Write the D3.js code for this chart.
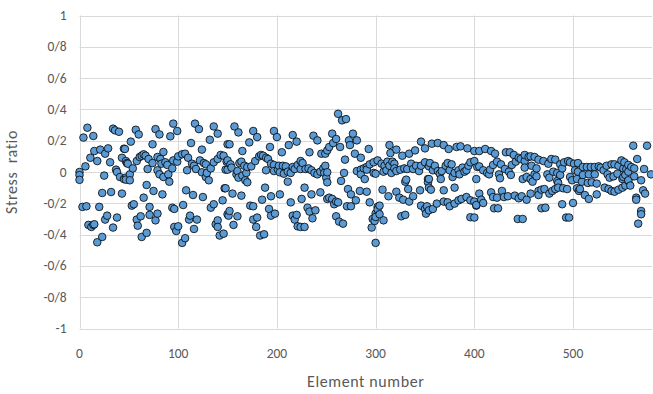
<!DOCTYPE html>
<html>
<head>
<meta charset="utf-8">
<script src="https://cdn.jsdelivr.net/npm/d3@7"></script>
<style>
  body { margin: 0; background: #fff; }
  svg text { font-family: Carlito, Calibri, Lato, sans-serif; }
</style>
</head>
<body>
<svg id="chart" width="653" height="394"></svg>
<script>
// element number / stress ratio in vertical strips
const strip1 = [[0,0],[0,-0.02],[0,-0.05],[6,0.036],[4,0.22],[8,0.283],[14,0.23],[34,0.277],[36,0.266],[40,0.257],[11,0.091],[15,0.134],[18,0.07],[21,0.143],[26,0.117],[29,0.151],[31,0.062],[25,-0.023],[37,0.015],[38,0],[41,-0.032],[45,-0.045],[47,-0.036],[43,0.091],[45,0.149],[48,0.057],[23,-0.134],[32,-0.128],[43,-0.138],[3,-0.223],[7,-0.219],[20,-0.223],[28,-0.279],[38,-0.291],[26,-0.304],[9,-0.338],[14,-0.338],[15,-0.334],[12,-0.351],[34,-0.355],[23,-0.415],[18,-0.449]];
const strip2 = [[57,0.27],[60,0.24],[77,0.274],[81,0.24],[95,0.309],[99,0.262],[92,0.228],[52,0.194],[74,0.177],[46,0.147],[85,0.128],[47,0.07],[49,0.053],[58,0.07],[63,0.104],[65,0.113],[67,0.104],[61,0.096],[70,0.083],[74,0.057],[79,0.096],[82,0.083],[83,0.053],[87,0.062],[89,0.045],[95,0.074],[99,0.066],[54,0.023],[69,0.019],[79,0.011],[81,-0.015],[85,-0.032],[90,-0.015],[94,0.023],[51,-0.015],[51,-0.053],[47,-0.049],[91,-0.062],[68,-0.083],[75,-0.121],[84,-0.143],[65,-0.164],[53,-0.215],[55,-0.206],[94,-0.228],[96,-0.236],[62,-0.283],[58,-0.304],[71,-0.223],[71,-0.274],[79,-0.266],[77,-0.309],[96,-0.351],[59,-0.343],[68,-0.389],[63,-0.415]];
const strip3 = [[117,0.309],[121,0.274],[136,0.291],[140,0.245],[113,0.185],[132,0.206],[124,0.143],[150,0.177],[100,0.1],[104,0.113],[107,0.117],[110,0.091],[114,0.053],[116,0.04],[118,0.019],[109,0.011],[122,0.074],[126,0.057],[128,0.049],[124,-0.002],[128,-0.032],[131,-0.053],[129,-0.006],[133,0.023],[136,0.062],[140,0.083],[143,0.109],[146,0.104],[150,0.074],[148,0.015],[108,-0.117],[115,-0.147],[125,-0.16],[147,-0.104],[145,-0.181],[105,-0.211],[133,-0.228],[136,-0.206],[112,-0.279],[111,-0.304],[119,-0.304],[140,-0.309],[150,-0.27],[100,-0.347],[98,-0.377],[116,-0.364],[138,-0.334],[140,-0.351],[146,-0.394],[142,-0.406],[107,-0.423],[104,-0.453]];
const strip4 = [[157,0.291],[161,0.253],[176,0.262],[180,0.223],[197,0.262],[200,0.223],[152,0.177],[172,0.189],[165,0.134],[193,0.16],[149,0.066],[153,0.049],[154,0.028],[150,0.015],[160,0.006],[162,0.057],[164,0.066],[167,0.04],[169,-0.006],[170,0.032],[174,0.036],[178,0.07],[182,0.1],[184,0.109],[186,0.104],[189,0.091],[191,0.083],[194,0.053],[189,0.011],[197,0.045],[201,0.015],[197,0.006],[159,-0.015],[161,-0.036],[165,-0.023],[168,-0.053],[170,-0.066],[148,-0.104],[155,-0.138],[164,-0.151],[188,-0.1],[185,-0.177],[194,-0.155],[173,-0.215],[176,-0.219],[192,-0.236],[198,-0.266],[194,-0.279],[152,-0.249],[151,-0.279],[160,-0.283],[180,-0.291],[176,-0.304],[179,-0.351],[156,-0.338],[183,-0.406],[187,-0.398]];
const strip5 = [[216,0.236],[220,0.194],[212,0.172],[205,0.126],[237,0.232],[241,0.202],[233,0.126],[245,0.117],[202,0.04],[206,0.04],[209,0.036],[203,-0.002],[207,-0.011],[211,0.002],[214,-0.006],[216,0.032],[218,0.019],[221,0.045],[224,0.07],[226,0.057],[229,0.019],[232,0.023],[235,0.011],[238,-0.006],[241,-0.015],[244,0.002],[247,0.023],[248,-0.006],[250,-0.036],[224,0.019],[211,-0.062],[228,-0.1],[235,-0.143],[244,-0.13],[203,-0.143],[214,-0.194],[225,-0.172],[251,-0.172],[231,-0.228],[239,-0.245],[233,-0.253],[216,-0.279],[220,-0.274],[218,-0.304],[236,-0.296],[221,-0.347],[224,-0.351],[228,-0.351]];
const strip6 = [[262,0.372],[266,0.33],[270,0.338],[256,0.245],[260,0.211],[257,0.185],[253,0.16],[251,0.138],[249,0.117],[264,0.16],[273,0.202],[277,0.245],[281,0.202],[274,0.172],[293,0.147],[279,0.117],[285,0.091],[269,0.079],[302,0.074],[298,0.062],[294,0.049],[291,0.032],[288,0.023],[285,0.015],[281,0.006],[285,-0.015],[289,-0.045],[291,0.015],[298,-0.006],[251,-0.002],[249,0.04],[268,-0.006],[265,-0.057],[251,-0.066],[272,-0.109],[275,-0.143],[280,-0.181],[284,-0.121],[291,-0.126],[294,-0.194],[253,-0.164],[256,-0.172],[260,-0.189],[258,-0.206],[262,-0.194],[271,-0.219],[275,-0.219],[260,-0.283],[263,-0.317],[267,-0.33],[302,-0.223],[300,-0.266],[297,-0.3],[299,-0.313],[296,-0.355],[300,-0.453]];
const strip7 = [[314,0.172],[315,0.121],[321,0.143],[327,0.104],[334,0.117],[340,0.138],[346,0.194],[350,0.151],[306,0.053],[309,0.04],[311,0.011],[312,0.066],[314,0.04],[317,0.066],[319,0.053],[316,-0.006],[319,0.023],[321,0.006],[325,0.015],[329,0.023],[332,0.019],[336,0.053],[338,0.019],[341,0.04],[344,0.006],[346,0.04],[350,0.062],[354,0.036],[308,0.002],[300,-0.011],[331,-0.049],[330,-0.062],[353,-0.045],[307,-0.113],[313,-0.155],[321,-0.126],[324,-0.164],[328,-0.177],[333,-0.109],[338,-0.155],[334,-0.189],[345,-0.117],[354,-0.1],[304,-0.215],[302,-0.24],[304,-0.27],[308,-0.309],[300,-0.287],[326,-0.283],[330,-0.274],[346,-0.215],[350,-0.236],[351,-0.266]];
const strip8 = [[357,0.181],[363,0.185],[369,0.172],[374,0.147],[382,0.16],[386,0.164],[393,0.151],[400,0.134],[355,0.057],[360,0.04],[358,0.011],[363,0.006],[365,-0.011],[366,-0.045],[367,0.006],[371,0.04],[373,0.057],[377,0.049],[375,0.011],[380,-0.006],[384,0.011],[385,-0.015],[388,0.028],[390,0.002],[392,0.011],[394,0.04],[396,0.062],[400,0.07],[403,0.032],[402,-0.045],[354,-0.045],[353,-0.066],[356,-0.113],[369,-0.117],[380,-0.1],[378,-0.032],[352,-0.219],[354,-0.245],[358,-0.236],[362,-0.202],[369,-0.189],[373,-0.194],[375,-0.219],[380,-0.202],[384,-0.181],[387,-0.172],[392,-0.16],[396,-0.181],[400,-0.189],[402,-0.215],[396,-0.289],[400,-0.291]];
const strip9 = [[405,0.134],[411,0.147],[417,0.134],[421,0.117],[432,0.126],[436,0.126],[440,0.109],[445,0.091],[451,0.07],[455,0.096],[405,0.036],[409,0.011],[413,-0.006],[415,-0.015],[416,0.015],[419,0.045],[423,0.066],[427,0.049],[431,0.019],[435,0.002],[437,-0.019],[438,0.045],[442,0.066],[447,0.083],[451,0.028],[453,-0.032],[449,-0.045],[425,-0.015],[426,-0.04],[405,-0.138],[407,-0.177],[417,-0.13],[419,-0.16],[423,-0.164],[428,-0.121],[430,-0.16],[434,-0.155],[441,-0.151],[445,-0.168],[448,-0.155],[453,-0.177],[402,-0.211],[409,-0.198],[420,-0.232],[424,-0.232],[444,-0.3],[449,-0.3]];
const strip10 = [[451,0.109],[457,0.1],[461,0.096],[465,0.079],[470,0.07],[475,0.053],[478,0.083],[482,0.079],[487,0.049],[491,0.062],[495,0.07],[497,0.062],[501,0.053],[458,0.04],[463,0.023],[461,-0.015],[457,-0.045],[459,-0.062],[463,-0.028],[474,-0.015],[476,-0.036],[480,0.002],[484,-0.006],[487,-0.019],[489,0.023],[484,-0.057],[485,-0.07],[497,-0.032],[499,-0.053],[505,0.002],[502,0.011],[457,-0.138],[465,-0.121],[468,-0.113],[471,-0.109],[476,-0.138],[479,-0.121],[482,-0.109],[485,-0.1],[490,-0.104],[494,-0.109],[465,-0.147],[504,-0.104],[468,-0.232],[472,-0.228],[489,-0.206],[500,-0.198],[493,-0.291],[496,-0.291]];
const strip11 = [[505,0.057],[510,0.032],[514,0.032],[518,0.032],[522,0.032],[526,0.036],[528,0.028],[534,0.04],[539,0.049],[542,0.049],[546,0.04],[551,0.023],[554,0.019],[510,-0.019],[516,-0.015],[522,-0.015],[531,0.011],[535,-0.015],[537,-0.036],[541,-0.028],[545,-0.011],[550,-0.045],[553,-0.019],[556,-0.057],[504,-0.045],[509,-0.062],[507,-0.109],[515,-0.07],[519,-0.066],[524,-0.074],[532,-0.1],[536,-0.109],[539,-0.121],[542,-0.126],[546,-0.113],[550,-0.1],[553,-0.087],[506,-0.121],[512,-0.147],[516,-0.172],[524,-0.143]];
const strip12 = [[561,0.168],[565,0.083],[575,0.168],[572,0.019],[579,-0.015],[549,0.074],[552,0.062],[556,0.045],[559,0.032],[562,0.023],[556,0.002],[551,-0.032],[556,-0.053],[558,-0.087],[562,-0.028],[569,-0.053],[571,-0.117],[573,-0.138],[564,-0.164],[564,-0.177],[569,-0.249],[569,-0.27],[566,-0.33]];

const xTicks = [0, 100, 200, 300, 400, 500];
const yTicks = [1, 0.8, 0.6, 0.4, 0.2, 0, -0.2, -0.4, -0.6, -0.8, -1];
const yTickLabels = ["1", "0/8", "0/6", "0/4", "0/2", "0", "-0/2", "-0/4", "-0/6", "-0/8", "-1"];
const xTitle = "Element number";
const yTitle = "Stress  ratio";

const points = [].concat(strip1, strip2, strip3, strip4, strip5, strip6,
  strip7, strip8, strip9, strip10, strip11, strip12)
  .sort((a, b) => a[0] - b[0]);

const svg = d3.select("#chart");
const plotLeft = 79.5, plotRight = 652, plotTop = 15.5, plotBottom = 328.5;

const x = d3.scaleLinear().domain([0, 580]).range([plotLeft, plotRight]);
const y = d3.scaleLinear().domain([-1, 1]).range([plotBottom, plotTop]);

// grid
svg.append("g")
  .selectAll("line")
  .data(yTicks)
  .enter()
  .append("line")
  .attr("x1", plotLeft)
  .attr("x2", plotRight)
  .attr("y1", (d) => Math.round(y(d)) + 0.5)
  .attr("y2", (d) => Math.round(y(d)) + 0.5)
  .attr("stroke", "#d9d9d9")
  .attr("stroke-width", 1);

svg.append("g")
  .selectAll("line")
  .data(xTicks)
  .enter()
  .append("line")
  .attr("x1", (d) => Math.round(x(d)) + 0.5)
  .attr("x2", (d) => Math.round(x(d)) + 0.5)
  .attr("y1", plotTop)
  .attr("y2", plotBottom)
  .attr("stroke", "#d9d9d9")
  .attr("stroke-width", 1);

// tick labels
svg.append("g")
  .selectAll("text")
  .data(yTicks)
  .enter()
  .append("text")
  .attr("x", plotLeft - 13)
  .attr("y", (d) => y(d) + 4.5)
  .attr("text-anchor", "end")
  .attr("font-size", 13.5)
  .attr("fill", "#595959")
  .text((d, i) => yTickLabels[i]);

svg.append("g")
  .selectAll("text")
  .data(xTicks)
  .enter()
  .append("text")
  .attr("x", (d) => x(d))
  .attr("y", plotBottom + 29)
  .attr("text-anchor", "middle")
  .attr("font-size", 13.5)
  .attr("fill", "#595959")
  .text((d) => d);

// axis titles
svg.append("text")
  .attr("x", (plotLeft + plotRight) / 2)
  .attr("y", 387)
  .attr("text-anchor", "middle")
  .attr("font-size", 16)
  .attr("letter-spacing", 0.6)
  .attr("fill", "#595959")
  .text(xTitle);

svg.append("text")
  .attr("transform", "translate(17," + (plotTop + plotBottom) / 2 + ") rotate(-90)")
  .attr("text-anchor", "middle")
  .attr("font-size", 16)
  .attr("letter-spacing", 0.6)
  .attr("fill", "#595959")
  .style("white-space", "pre")
  .text(yTitle);

// markers
svg.append("g")
  .selectAll("circle")
  .data(points)
  .enter()
  .append("circle")
  .attr("cx", (d) => x(d[0]))
  .attr("cy", (d) => y(d[1]))
  .attr("r", 3.8)
  .attr("fill", "#5b9bd5")
  .attr("stroke", "#000")
  .attr("stroke-width", 0.8);
</script>
</body>
</html>
